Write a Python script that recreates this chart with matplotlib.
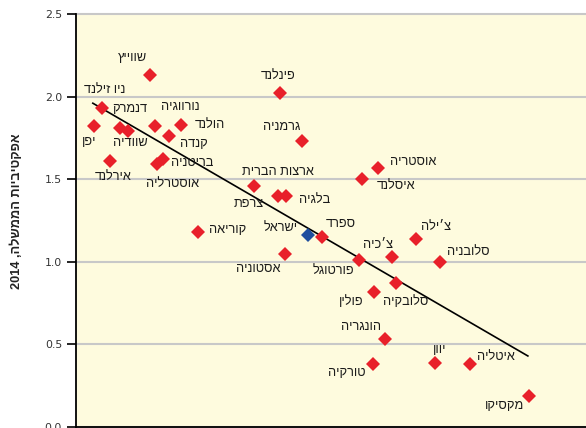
"""
אפקטיביות הממשלה 2014 - פיזור מדינות OECD עם קו מגמה
"""

import re

import matplotlib
matplotlib.use("Agg")
import matplotlib.pyplot as plt

plt.rcParams['font.family'] = ['Liberation Sans', 'DejaVu Sans']

# --- data (x axis not shown in the source, arbitrary index 0-100) ---
COUNTRIES = [
    "שווייץ", "ניו זילנד", "יפן", "דנמרק", "שוודיה", "נורווגיה", "הולנד",
    "קנדה", "בריטניה", "אוסטרליה", "אירלנד", "פינלנד", "גרמניה",
    "ארצות הברית", "צרפת", "בלגיה", "איסלנד", "אוסטריה", "קוריאה",
    "ישראל", "ספרד", "אסטוניה", "פורטוגל", "צ׳כיה", "פולין", "סלובקיה",
    "הונגריה", "טורקיה", "צ׳ילה", "סלובניה", "יוון", "איטליה", "מקסיקו",
]
X_VALUES = [
    14.5, 5.1, 3.5, 8.6, 10.2, 15.5, 20.6,
    18.2, 17.1, 15.9, 6.7, 40.0, 44.3,
    34.9, 39.6, 41.2, 56.1, 59.2, 23.9,
    45.5, 48.2, 41.0, 55.5, 62.0, 58.4, 62.7,
    60.6, 58.2, 66.7, 71.4, 70.4, 77.3, 88.8,
]
Y_VALUES = [
    2.13, 1.93, 1.82, 1.81, 1.79, 1.82, 1.83,
    1.76, 1.62, 1.59, 1.61, 2.02, 1.73,
    1.46, 1.40, 1.40, 1.50, 1.57, 1.18,
    1.16, 1.15, 1.05, 1.01, 1.03, 0.82, 0.87,
    0.53, 0.38, 1.14, 1.00, 0.39, 0.38, 0.19,
]
HIGHLIGHT = "ישראל"

TREND_X = [3.3, 88.6]
TREND_Y = [1.96, 0.43]

Y_TICKS = [0.0, 0.5, 1.0, 1.5, 2.0, 2.5]
Y_LABEL = "אפקטיביות הממשלה, 2014"

# label offset from marker, in pixels (dx right, dy down)
LABEL_OFFSETS = {
    "שווייץ": (-17, -17), "ניו זילנד": (3, -18), "יפן": (-5, 16),
    "דנמרק": (10, -19), "שוודיה": (2, 12), "נורווגיה": (25, -19),
    "הולנד": (29, 0), "קנדה": (25, 8), "בריטניה": (29, 4),
    "אוסטרליה": (15, 20), "אירלנד": (3, 16), "פינלנד": (-2, -17),
    "גרמניה": (-20, -14), "ארצות הברית": (24, -14), "צרפת": (-29, 8),
    "בלגיה": (29, 4), "איסלנד": (34, 7), "אוסטריה": (35, -6),
    "קוריאה": (30, -2), "ישראל": (-27, -7), "ספרד": (19, -13),
    "אסטוניה": (-27, 15), "פורטוגל": (-26, 11), "צ׳כיה": (-14, -12),
    "פולין": (-23, 10), "סלובקיה": (10, 18), "הונגריה": (-24, -12),
    "טורקיה": (-26, 9), "צ׳ילה": (20, -12), "סלובניה": (28, -10),
    "יוון": (5, -13), "איטליה": (26, -7), "מקסיקו": (-24, 10),
}

RED = "#E8202A"
BLUE = "#1F4E9E"
BG = "#FEFBDE"
GRID = "#C8C8C8"


def visual(s):
    """matplotlib אינו תומך ב-RTL: הופכים את הסדר, ומחזירים מספרים לסדרם"""
    r = s[::-1]
    return re.sub(r"\d+", lambda m: m.group(0)[::-1], r)


def main():
    fig = plt.figure(figsize=(5.86, 4.28), dpi=100)
    ax = fig.add_axes([76 / 586, 1 / 428, 1 - 76 / 586, 413 / 428])
    ax.set_facecolor(BG)

    ax.set_xlim(0, 100)
    ax.set_ylim(0, 2.5)
    ax.set_yticks(Y_TICKS)
    ax.set_yticklabels([f"{t:.1f}" for t in Y_TICKS], family='DejaVu Sans',
                       fontsize=7.8, color='#333333')
    ax.set_xticks([])
    ax.yaxis.grid(True, color=GRID, linewidth=1.5, clip_on=False)
    ax.set_axisbelow(True)
    ax.tick_params(axis='y', direction='out', length=6.5, width=1.2, pad=3.5)

    for side in ('top', 'right'):
        ax.spines[side].set_visible(False)
    ax.spines['left'].set_linewidth(1.3)
    ax.spines['bottom'].set_linewidth(1.3)

    ax.plot(TREND_X, TREND_Y, color='black', linewidth=1.2, zorder=3)

    for name, x, y in zip(COUNTRIES, X_VALUES, Y_VALUES):
        color = BLUE if name == HIGHLIGHT else RED
        ax.plot(x, y, marker='D', markersize=7, color=color,
                markeredgewidth=0, linestyle='none', zorder=4)
        dx, dy = LABEL_OFFSETS[name]
        ax.annotate(visual(name), (x, y), xytext=(dx * 0.72, -dy * 0.72),
                    textcoords='offset points', ha='center', va='center',
                    fontsize=9.2, color='#1a1a1a', zorder=5)

    fig.text(17 / 586, 1 - 211 / 428, visual(Y_LABEL), rotation=90,
             ha='center', va='center', fontsize=9.2, fontweight='bold',
             color='#222222')

    fig.savefig("out.png", dpi=100)
    plt.close(fig)


if __name__ == "__main__":
    main()
